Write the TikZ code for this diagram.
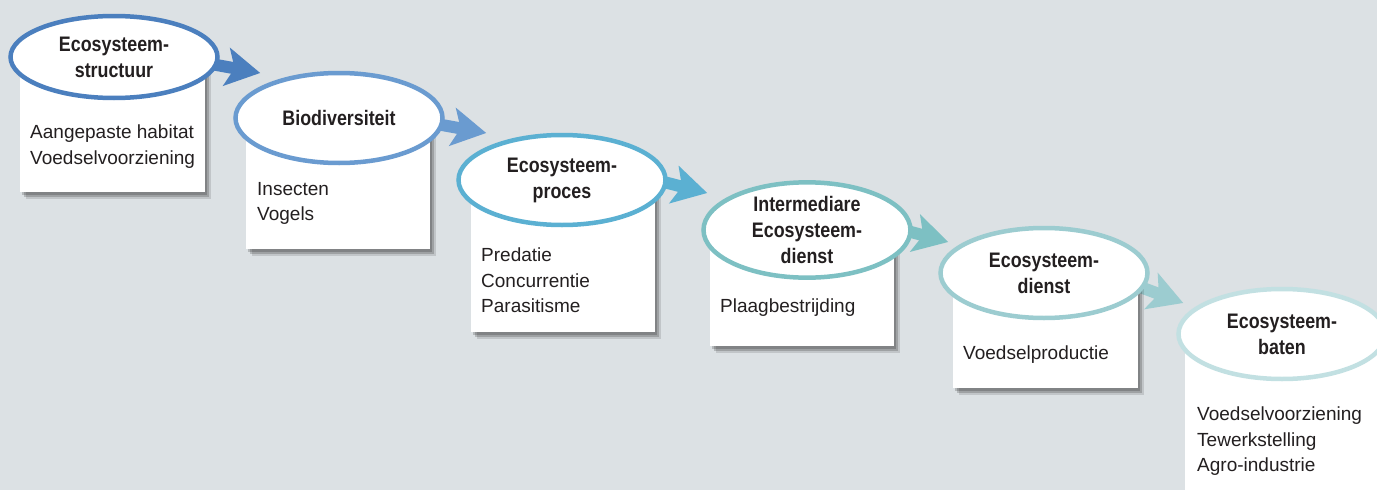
\documentclass[tikz,border=0pt]{standalone}
\usepackage{fontspec}
\setmainfont{Liberation Sans}
\newfontfamily\headfont{Liberation Sans}[FakeStretch=0.85]
\usetikzlibrary{shapes.geometric,shadows,arrows.meta,calc}

\definecolor{bgcol}{HTML}{DCE1E4}
\definecolor{txtcol}{HTML}{231F20}
\definecolor{stepA}{HTML}{4B7FBE}
\definecolor{stepB}{HTML}{6A9BD0}
\definecolor{stepC}{HTML}{5BB0D2}
\definecolor{stepD}{HTML}{7DC0C3}
\definecolor{stepE}{HTML}{9CCCD0}
\definecolor{stepF}{HTML}{C2E0E2}

\pgfdeclarelayer{paper}
\pgfdeclarelayer{flow}
\pgfdeclarelayer{cards}
\pgfsetlayers{paper,flow,cards,main}

\tikzset{
  stage/.style={ellipse, draw=#1, line width=4.5pt, fill=white,
    minimum width=207pt, minimum height=90pt, inner sep=0pt,
    align=center, text=txtcol,
    font=\headfont\bfseries\fontsize{21}{26}\selectfont},
  card/.style={rectangle, fill=white, anchor=north west, inner sep=0pt,
    drop shadow={shadow xshift=6pt, shadow yshift=-7pt, opacity=0.12, fill=black},
    drop shadow={shadow xshift=4pt, shadow yshift=-5pt, opacity=0.18, fill=black},
    drop shadow={shadow xshift=2pt, shadow yshift=-3pt, opacity=0.18, fill=black}},
  items/.style={anchor=north west, inner sep=0pt, align=left, text=txtcol,
    font=\fontsize{19}{25.5}\selectfont},
  flow/.style={draw=#1, line width=12pt,
    -{Stealth[length=34pt, width=38pt, inset=8pt]}},
}

\begin{document}
\begin{tikzpicture}[x=1pt, y=-1pt]

\useasboundingbox (0,0) rectangle (1377,490);
\begin{pgfonlayer}{paper}
\fill[bgcol] (0,0) rectangle (1377,490);
\end{pgfonlayer}

% stappen
\node[stage=stepA, minimum height=82pt] (e1) at (114,57) {Ecosysteem-\\structuur};
\node[stage=stepB] (e2) at (339,118) {Biodiversiteit};
\node[stage=stepC] (e3) at (562,180) {Ecosysteem-\\proces};
\node[stage=stepD] (e4) at (807,230) {Intermediare\\Ecosysteem-\\dienst};
\node[stage=stepE] (e5) at (1044,273) {Ecosysteem-\\dienst};
\node[stage=stepF] (e6) at (1282,334) {Ecosysteem-\\baten};

% kaartjes
\begin{pgfonlayer}{cards}
\node[card, minimum width=185pt, minimum height=135pt] (b1) at (20,57) {};
\node[card, minimum width=184pt, minimum height=131pt] (b2) at (246,118) {};
\node[card, minimum width=184pt, minimum height=152pt] (b3) at (471,180) {};
\node[card, minimum width=184pt, minimum height=116pt] (b4) at (710,230) {};
\node[card, minimum width=185pt, minimum height=115pt] (b5) at (953,273) {};
\node[card, minimum width=200pt, minimum height=180pt] (b6) at (1185,334) {};
\end{pgfonlayer}

\node[items] (l1) at (30,125) {Aangepaste habitat\\Voedselvoorziening};
\node[items] (l2) at (257,182) {Insecten\\Vogels};
\node[items] (l3) at (481,248) {Predatie\\Concurrentie\\Parasitisme};
\node[items] (l4) at (720,299) {Plaagbestrijding};
\node[items] (l5) at (963,346) {Voedselproductie};
\node[items] (l6) at (1197,407) {Voedselvoorziening\\Tewerkstelling\\Agro-industrie};

% pijlen
\begin{pgfonlayer}{flow}
\draw[flow=stepA] ([xshift=-25pt,yshift=-4pt]e1.east) -- ([xshift=27pt,yshift=45pt]e2.west);
\draw[flow=stepB] ([xshift=-25pt,yshift=-3pt]e2.east) -- ([xshift=30pt,yshift=47pt]e3.west);
\draw[flow=stepC] ([xshift=-24pt,yshift=3pt]e3.east) -- ([xshift=6pt,yshift=37pt]e4.west);
\draw[flow=stepD] ([xshift=-24pt,yshift=4pt]e4.east) -- ([xshift=10pt,yshift=31pt]e5.west);
\draw[flow=stepE] ([xshift=-23pt,yshift=-9pt]e5.east) -- ([xshift=7pt,yshift=31pt]e6.west);
\end{pgfonlayer}

\end{tikzpicture}
\end{document}
